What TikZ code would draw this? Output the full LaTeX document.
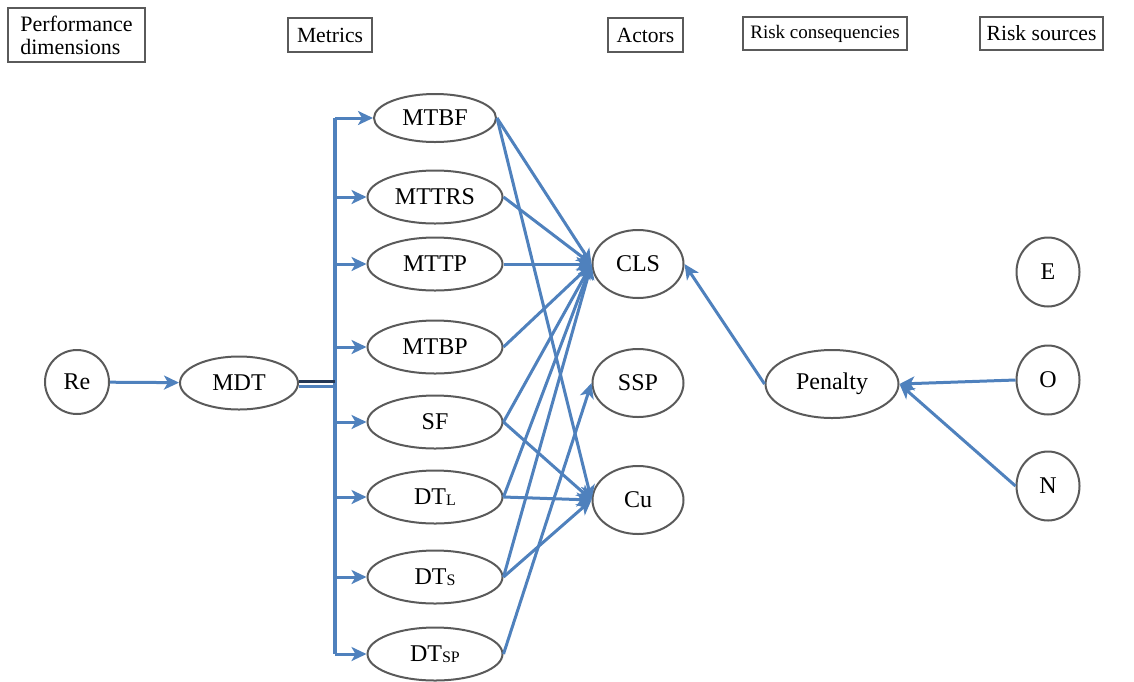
\documentclass[tikz,border=0pt]{standalone}
\usepackage{fontspec}
\setmainfont{Liberation Serif}
\usetikzlibrary{arrows.meta,shapes.geometric}
\definecolor{lnblue}{RGB}{79,129,189}
\definecolor{lndark}{RGB}{35,55,85}
\definecolor{bordergray}{RGB}{90,90,90}
\newcommand{\subsc}[1]{\raisebox{-0.6pt}{\fontsize{8}{8}\selectfont #1}}
\begin{document}
\begin{tikzpicture}[x=0.5pt,y=-0.5pt,
  nodefont/.style={font=\fontsize{12}{14}\selectfont},
  elli/.style={ellipse, draw=bordergray, line width=1pt, inner sep=0pt, nodefont},
  metric/.style={elli, minimum width=67.5pt, minimum height=26.5pt},
  actor/.style={elli, minimum width=45.5pt, minimum height=34pt},
  src/.style={elli, minimum width=31.5pt, minimum height=34.5pt},
  hdr/.style={draw=bordergray, line width=1.3pt, inner sep=0pt, font=\fontsize{10.8}{12}\selectfont},
  arr/.style={draw=lnblue, line width=1.5pt, -{Stealth[length=7.5pt,width=7pt,inset=2pt]}},
  bus/.style={draw=lnblue, line width=1.6pt},
]
\useasboundingbox (0,0) rectangle (1134,681);

% headers
\node[hdr, minimum width=68.5pt, minimum height=27pt, align=left, font=\fontsize{11}{11.5}\selectfont] (hperf) at (76.5,35) {Performance\\dimensions};
\node[hdr, minimum width=42pt, minimum height=17pt] (hmet) at (330,35) {Metrics};
\node[hdr, minimum width=37.5pt, minimum height=17pt] (hact) at (645.5,35) {Actors};
\node[hdr, minimum width=82pt, minimum height=16.5pt, font=\fontsize{9.5}{11}\selectfont] (hcons) at (825,33.5) {Risk consequencies};
\node[hdr, minimum width=61.5pt, minimum height=16.5pt] (hsrc) at (1041.5,33.5) {Risk sources};

% left
\node[elli, circle, minimum size=32pt] (re) at (77,382) {Re};
\node[metric, minimum width=59pt] (mdt) at (239,383) {MDT};

% metrics
\node[metric, minimum width=61pt, minimum height=24pt] (mtbf) at (435,118) {MTBF};
\node[metric] (mttrs) at (435,197) {MTTRS};
\node[metric] (mttp) at (435,264) {MTTP};
\node[metric] (mtbp) at (435,347) {MTBP};
\node[metric] (sf) at (435,422) {SF};
\node[metric] (dtl) at (435,497) {DT\subsc{L}};
\node[metric] (dts) at (435,577) {DT\subsc{S}};
\node[metric] (dtsp) at (435,654) {DT\subsc{SP}};

% actors
\node[actor] (cls) at (638,264) {CLS};
\node[actor] (ssp) at (638,383) {SSP};
\node[actor] (cu) at (638,500) {Cu};

% consequence and sources
\node[actor, minimum width=66.5pt] (pen) at (832,384) {Penalty};
\node[src] (e) at (1048,272) {E};
\node[src] (o) at (1048,380) {O};
\node[src] (n) at (1048,486) {N};

% Re -> MDT
\draw[arr] (re) -- (mdt);

% bus
\coordinate (btop) at (335,118);
\coordinate (bbot) at (335,654);
\draw[bus] (btop) -- (bbot);
\draw[bus, draw=lndark] ([yshift=0.9pt]mdt.east) -- ([yshift=0.9pt]mdt.east -| btop);
\draw[bus, line width=1.1pt] ([yshift=-1.7pt]mdt.east) -- ([yshift=-1.7pt]mdt.east -| btop);
\foreach \m in {mtbf,mttrs,mttp,mtbp,sf,dtl,dts,dtsp}
  \draw[arr] (btop |- \m.west) -- (\m.west);

% metrics -> actors
\draw[arr] (mtbf.east) -- (cls.west);
\draw[arr] (mtbf.east) -- (cu.west);
\draw[arr] (mttrs.east) -- (cls.west);
\draw[arr] (mttp.east) -- (cls.west);
\draw[arr] (mtbp.east) -- (cls.west);
\draw[arr] (sf.east) -- (cls.west);
\draw[arr] (sf.east) -- (cu.west);
\draw[arr] (dtl.east) -- (cls.west);
\draw[arr] (dtl.east) -- (cu.west);
\draw[arr] (dts.east) -- (cls.west);
\draw[arr] (dts.east) -- (cu.west);
\draw[arr] (dtsp.east) -- (ssp.west);

% right side
\draw[arr] (pen.west) -- (cls.east);
\draw[arr] (o.west) -- (pen.east);
\draw[arr] (n.west) -- (pen.east);
\end{tikzpicture}
\end{document}
